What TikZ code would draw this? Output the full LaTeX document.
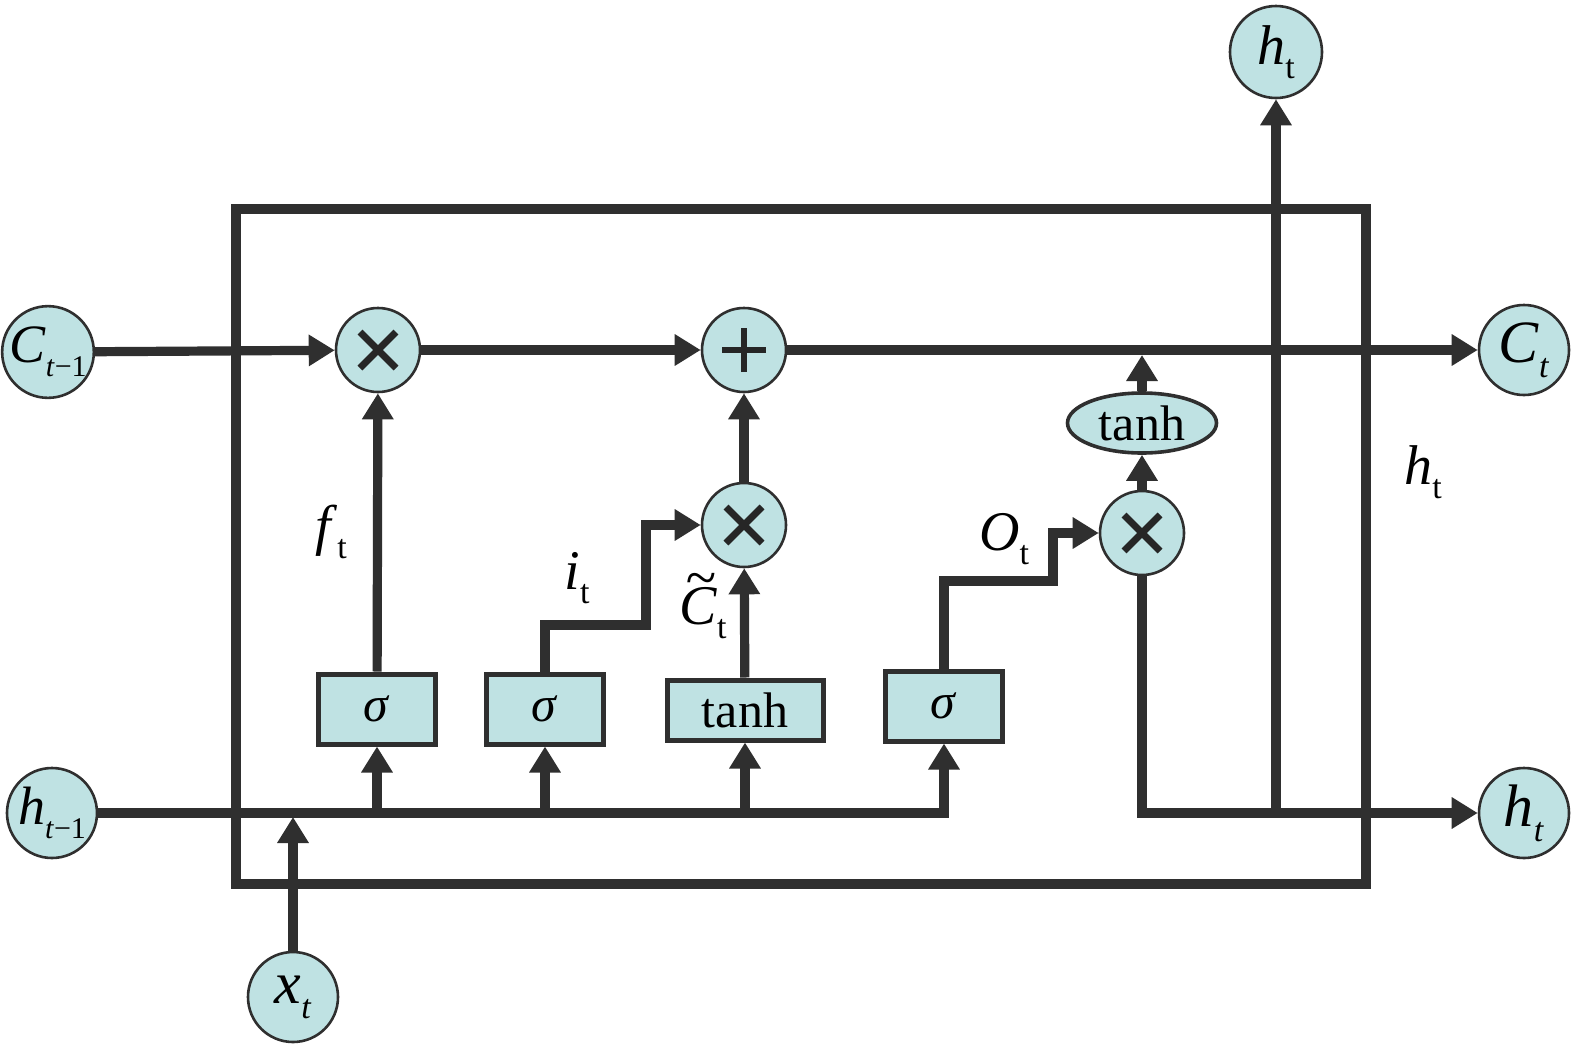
\documentclass[tikz,border=0pt]{standalone}
\usepackage{fontspec}
\setmainfont{Liberation Serif}
\usetikzlibrary{arrows.meta,shapes.geometric}
\definecolor{fillc}{HTML}{BFE2E3}
\definecolor{linec}{HTML}{2F2F2F}
\newcommand{\lsub}[1]{\raisebox{-0.25em}{\fontsize{17}{17}\selectfont #1}}
\newcommand{\ssub}[1]{\raisebox{-0.25em}{\fontsize{15}{15}\selectfont #1}}
\newcommand{\tildeC}{\textit{C}\llap{\raisebox{0.5em}{\textit{\textasciitilde}}\hspace{0.02em}}}
\begin{document}
\begin{tikzpicture}[x=0.5pt,y=-0.5pt,
 wire/.style={line width=4.6pt, draw=linec},
 arr/.style={wire,-{Triangle[length=13pt,width=15pt]}},
 var/.style={circle,draw=linec,line width=1.3pt,fill=fillc,minimum size=45pt,inner sep=0pt,font=\fontsize{30}{34}\selectfont},
 op/.style={circle,draw=linec,line width=1.3pt,fill=fillc,minimum size=42pt,inner sep=0pt},
 mul/.style={op,path picture={\draw[line width=3.4pt,draw=black!85] (path picture bounding box.center) +(-9pt,-9pt) -- +(9pt,9pt) +(-9pt,9pt) -- +(9pt,-9pt);}},
 add/.style={op,path picture={\draw[line width=3.4pt,draw=black!85] (path picture bounding box.center) +(-11pt,0) -- +(11pt,0) +(0,-11pt) -- +(0,11pt);}},
 gate/.style={rectangle,draw=linec,line width=2.5pt,fill=fillc,minimum width=58.5pt,minimum height=35pt,inner sep=0pt,font=\fontsize{25}{28}\selectfont},
 lbl/.style={font=\fontsize{28}{32}\selectfont,inner sep=0pt}]
\useasboundingbox (0,0) rectangle (1575,1055);
\fill[white] (0,0) rectangle (1575,1055);
% frame
\draw[wire] (236,209) rectangle (1366,884);
% nodes
\node[var,font=\fontsize{27}{30}\selectfont] (cprev) at (48,352) {\textit{C}\ssub{\textit{t}−1}};
\node[var,font=\fontsize{27}{30}\selectfont] (hprev) at (52,813) {\textit{h}\ssub{\textit{t}−1}};
\node[var] (xt) at (293,997) {\textit{x}\lsub{\textit{t}}};
\node[var] (ct) at (1524,350) {\textit{C}\lsub{\textit{t}}};
\node[var] (hout) at (1524,813) {\textit{h}\lsub{\textit{t}}};
\node[var,minimum size=46pt,font=\fontsize{28}{32}\selectfont] (htop) at (1276,52) {\textit{h}\lsub{t}};
\node[mul] (m1) at (378,350) {};
\node[add] (plus) at (744,350) {};
\node[mul] (m2) at (744,525) {};
\node[mul] (m3) at (1142,533) {};
\node[ellipse,draw=linec,line width=1.8pt,fill=fillc,minimum width=74.5pt,minimum height=30pt,inner sep=0pt,font=\fontsize{25}{28}\selectfont] (te) at (1142,423) {tanh};
\node[gate] (s1) at (377,709) {\textit{σ}};
\node[gate] (s2) at (545,709) {\textit{σ}};
\node[gate,minimum width=78pt,minimum height=30pt] (tb) at (745,710) {tanh};
\node[gate] (s3) at (944,706) {\textit{σ}};
% helper coordinates
\coordinate (c1) at (646,625);
\coordinate (c2) at (1053,581);
\coordinate (cl) at (1142,355);
\coordinate (xin) at (293,817);
\coordinate (j) at (1276,813);
% connectors
\draw[arr] (cprev) -- (m1);
\draw[arr] (m1) -- (plus);
\draw[arr] (plus) -- (ct);
\draw[arr] (hprev) -| (s3);
\draw[arr] (s1 |- hprev) -- (s1);
\draw[arr] (s2 |- hprev) -- (s2);
\draw[arr] (tb |- hprev) -- (tb);
\draw[arr] (xt) -- (xin);
\draw[arr] (s1) -- (m1);
\draw[arr] (s2) |- (c1) |- (m2);
\draw[arr] (tb) -- (m2);
\draw[arr] (m2) -- (plus);
\draw[arr] (s3) |- (c2) |- (m3);
\draw[arr] (m3) -- (te);
\draw[arr] (te) -- (cl);
\draw[arr] (m3) |- (hout);
\draw[arr] (j) -- (htop);
% labels
\node[lbl] (lf) at (331,532) {\textit{f}\lsub{t}};
\node[lbl] (li) at (577,578) {\textit{i}\lsub{t}};
\node[lbl] (lc) at (703,606) {\tildeC\lsub{t}};
\node[lbl] (lo) at (1004,539) {\textit{O}\lsub{t}};
\node[lbl] (lh) at (1423,472) {\textit{h}\lsub{t}};
\end{tikzpicture}
\end{document}
